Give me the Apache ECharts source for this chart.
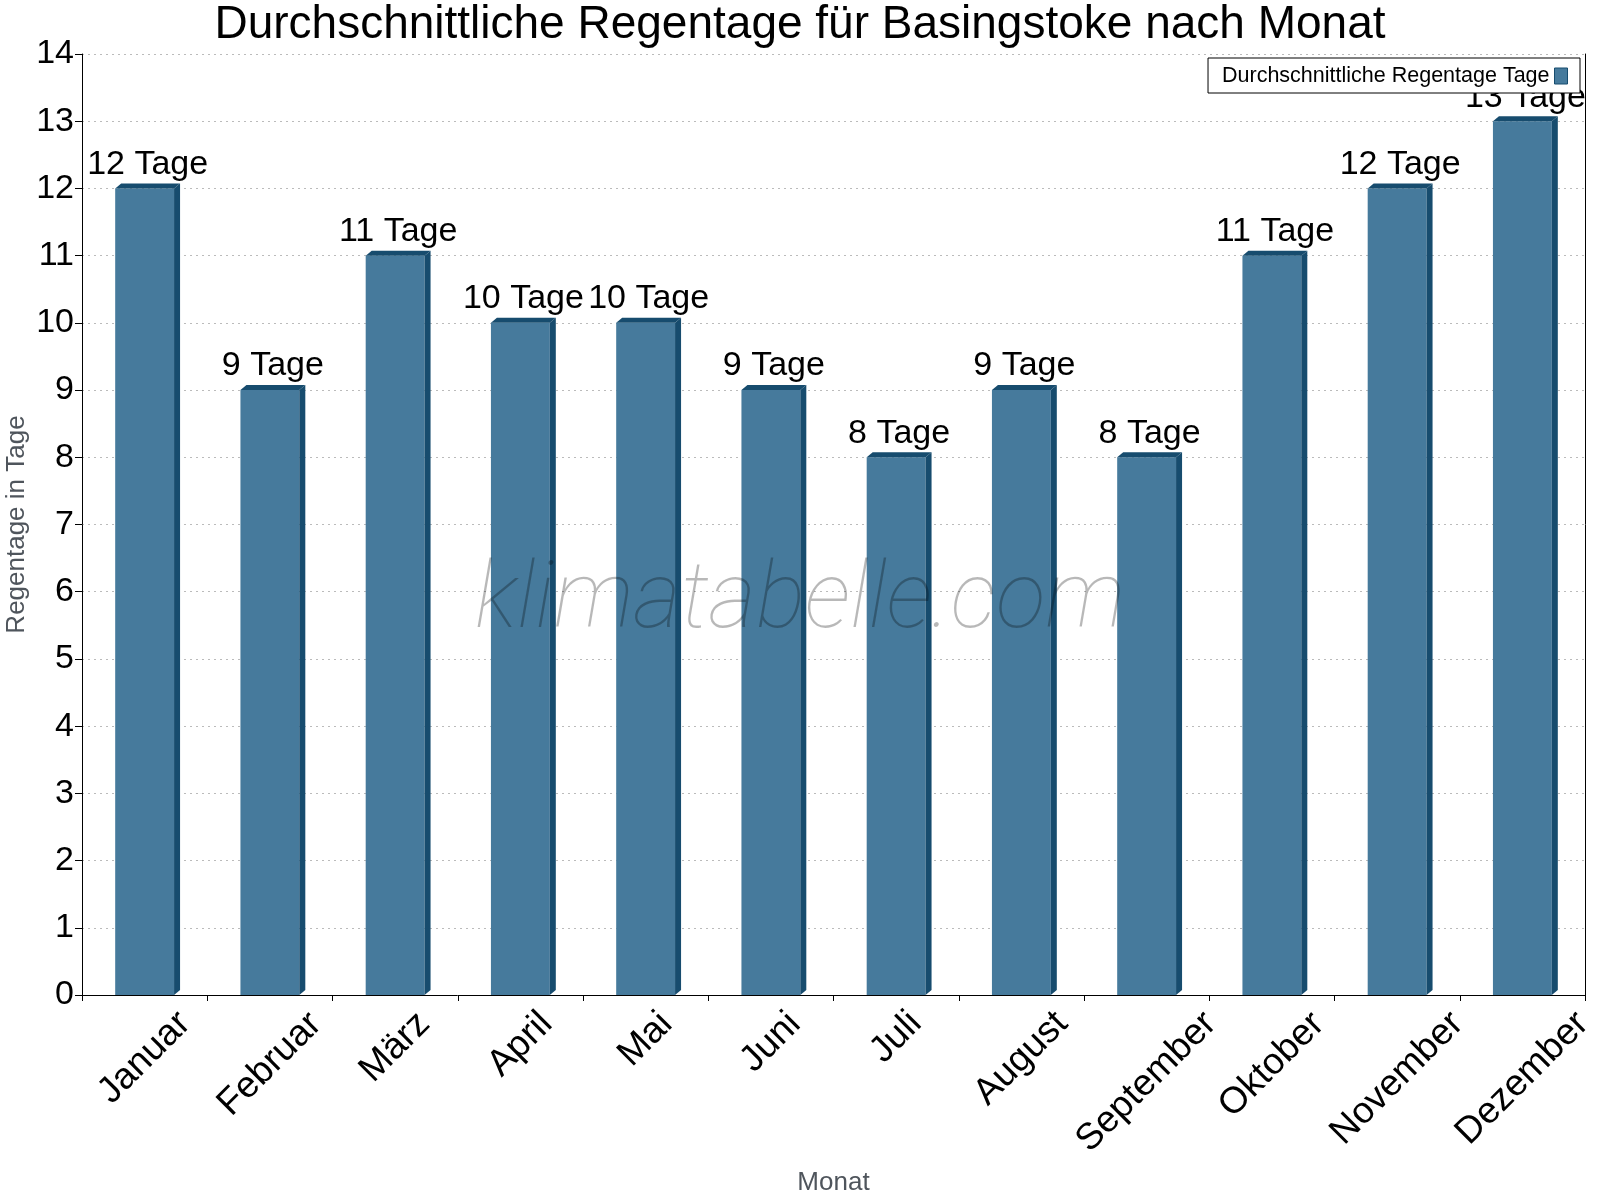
<!DOCTYPE html>
<html>
<head>
<meta charset="utf-8">
<script src="https://cdn.jsdelivr.net/npm/echarts@6/dist/echarts.min.js"></script>
<style>
html,body{margin:0;padding:0;background:#fff;}
#chart{width:1600px;height:1200px;}
</style>
</head>
<body>
<div id="chart"></div>
<script>
var months=['Januar','Februar','März','April','Mai','Juni','Juli','August','September','Oktober','November','Dezember'];
var rainDays=[12,9,11,10,10,9,8,9,8,11,12,13];
var yTicks=[0,1,2,3,4,5,6,7,8,9,10,11,12,13,14];
var seriesName='Durchschnittliche Regentage Tage';
var unit=' Tage';

var font="'Liberation Sans', Arial, sans-serif";
var front='#467a9c', dark='#174c6e';
var xFont=37;

// rotated month labels: centred under the month, top of the rotated box
// on one line -> pad each one by its own length
var ctx=document.createElement('canvas').getContext('2d');
ctx.font=xFont+'px '+font;
var rich={};
months.forEach(function(m,i){
	var p=Math.round((ctx.measureText(m).width+xFont*0.85)/2);
	rich['m'+i]={fontFamily:font,fontSize:xFont,color:'#000',padding:[p,p,0,0]};
});

var chart=echarts.init(document.getElementById('chart'));

function renderBar(params,api){
	var idx=api.value(0);
	var val=api.value(1);
	var top=api.coord([idx,val]);
	var base=api.coord([idx,0]);
	var band=api.size([1,0])[0];
	var w=band*0.47;
	var x0=top[0]-w/2, x1=top[0]+w/2;
	var dx=6, dy=5;
	return {
		type:'group',
		children:[
			{type:'rect',shape:{x:x0,y:top[1],width:w,height:base[1]-top[1]},style:{fill:front}},
			{type:'polygon',shape:{points:[[x1,top[1]],[x1+dx,top[1]-dy],[x1+dx,base[1]-dy],[x1,base[1]]]},style:{fill:dark}},
			{type:'polygon',shape:{points:[[x0,top[1]],[x0+dx,top[1]-dy],[x1+dx,top[1]-dy],[x1,top[1]]]},style:{fill:dark}},
			{type:'text',x:top[0]+dx/2,y:top[1]-dy-2,style:{text:val+unit,font:'34px '+font,fill:'#000',align:'center',verticalAlign:'bottom'}}
		]
	};
}

chart.setOption({
	animation:false,
	backgroundColor:'#fff',
	title:{
		text:'Durchschnittliche Regentage für Basingstoke nach Monat',
		left:'center',top:-3,
		textStyle:{fontFamily:font,fontSize:46,fontWeight:'normal',color:'#000'}
	},
	legend:{
		data:[{name:seriesName,icon:'rect'}],
		right:20,top:58,
		align:'right',
		padding:[7,12,6,14],
		itemWidth:13,itemHeight:16,
		borderColor:'#000',borderWidth:1,backgroundColor:'#fff',
		textStyle:{fontFamily:font,fontSize:21.5,color:'#000'},
		itemStyle:{color:front,borderColor:dark,borderWidth:1}
	},
	grid:{left:82,right:15,top:54,bottom:205,containLabel:false,outerBoundsMode:'none'},
	xAxis:{
		type:'category',
		data:months,
		axisLine:{lineStyle:{color:'#000',width:1}},
		axisTick:{show:true,length:6,lineStyle:{color:'#000'}},
		axisLabel:{
			interval:0,rotate:45,margin:12,align:'center',verticalAlign:'middle',
			rich:rich,
			formatter:function(v,i){return '{m'+i+'|'+v+'}';}
		},
		splitLine:{show:false},
		name:'Monat',nameLocation:'middle',nameGap:175,nameMoveOverlap:false,
		nameTextStyle:{fontFamily:font,fontSize:26,color:'#4f555c'}
	},
	yAxis:[{
		type:'value',
		min:yTicks[0],max:yTicks[yTicks.length-1],interval:1,
		axisLine:{show:true,lineStyle:{color:'#000',width:1}},
		axisTick:{show:true,length:7,lineStyle:{color:'#000'}},
		axisLabel:{fontFamily:font,fontSize:34,color:'#000',margin:8},
		splitLine:{show:true,lineStyle:{color:'#bbb',type:[2,4],width:1}},
		name:'Regentage in Tage',nameLocation:'middle',nameGap:52,nameMoveOverlap:false,
		nameTextStyle:{fontFamily:font,fontSize:26,color:'#4f555c'}
	},{
		type:'value',
		position:'right',
		min:yTicks[0],max:yTicks[yTicks.length-1],interval:1,
		axisLine:{show:true,lineStyle:{color:'#000',width:1}},
		axisTick:{show:false},axisLabel:{show:false},splitLine:{show:false}
	}],
	graphic:[{
		type:'text',
		left:'center',top:558,z:100,
		style:{
			text:'klimatabelle.com',
			font:'italic 100 92px Roboto, sans-serif',
			fill:'rgba(0,0,0,0.28)'
		}
	}],
	series:[{
		name:seriesName,
		type:'custom',
		renderItem:renderBar,
		itemStyle:{color:front},
		encode:{x:0,y:1},
		data:rainDays.map(function(v,i){return [i,v];})
	}]
});
</script>
</body>
</html>
